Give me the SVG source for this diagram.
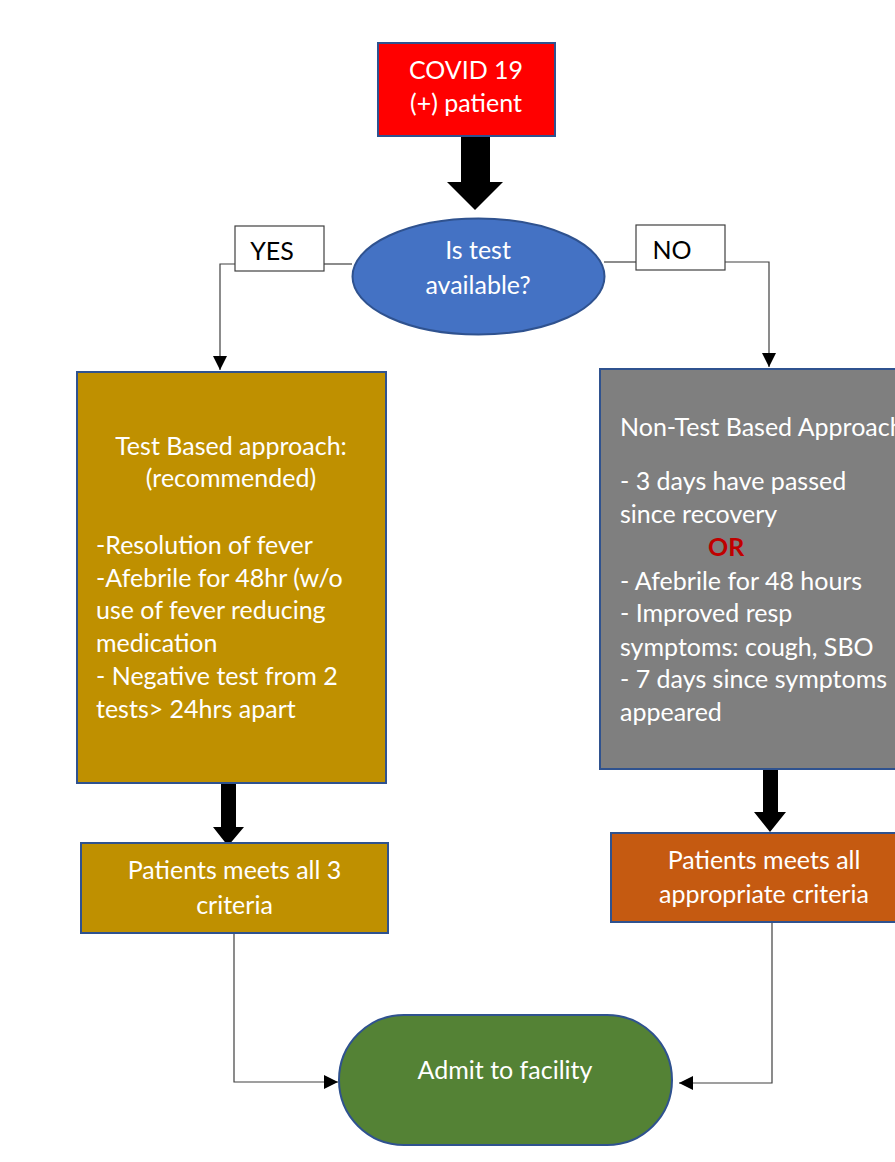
<svg xmlns="http://www.w3.org/2000/svg" width="895" height="1162" viewBox="0 0 895 1162">
<defs>
<style>
.box{stroke:#2F528F;stroke-width:2}
.t{font-family:Lato,"Open Sans","Liberation Sans",sans-serif;font-size:25px;fill:#FFFFFF}
.c{text-anchor:middle}
.lbl{fill:#FFFFFF;stroke:#404040;stroke-width:1.2}
.lt{font-family:Lato,"Open Sans","Liberation Sans",sans-serif;font-size:25px;fill:#000000;text-anchor:middle}
.conn{fill:none;stroke:#404040;stroke-width:1.2}
.big{fill:#000000}
</style>
<marker id="ah" markerWidth="14" markerHeight="14" refX="14" refY="7" orient="auto" markerUnits="userSpaceOnUse">
<path d="M0,0 L14,7 L0,14 Z" fill="#000000"/>
</marker>
</defs>
<rect width="895" height="1162" fill="#FFFFFF"/>

<g id="connectors">
<polygon class="big" points="461,136 490,136 490,182 503,182 475,210 447,182 461,182"/>
<polygon class="big" points="221,783 236,783 236,827 244,827 228,846 213,827 221,827"/>
<polygon class="big" points="763,769 778,769 778,812 786,812 770,832 754,812 763,812"/>
<line class="conn" x1="352" y1="264" x2="324" y2="264"/>
<polyline class="conn" points="235,264 220,264 220,370" marker-end="url(#ah)"/>
<line class="conn" x1="604" y1="262" x2="636" y2="262"/>
<polyline class="conn" points="725,262 769,262 769,367" marker-end="url(#ah)"/>
<polyline class="conn" points="234,934 234,1082 338,1082" marker-end="url(#ah)"/>
<polyline class="conn" points="772,923 772,1083 679,1083" marker-end="url(#ah)"/>
</g>

<g id="covid">
<rect class="box" x="378" y="43" width="177" height="93" fill="#FF0000"/>
<text class="t c" x="466" y="79">COVID 19</text>
<text class="t c" x="466" y="112">(+) patient</text>
</g>

<g id="test-available">
<ellipse class="box" cx="478.5" cy="276.5" rx="126" ry="58" fill="#4472C4"/>
<text class="t c" x="478" y="259">Is test</text>
<text class="t c" x="478" y="294">available?</text>
</g>

<g id="yes">
<rect class="lbl" x="235" y="226" width="89" height="45"/>
<text class="lt" x="272" y="260">YES</text>
</g>

<g id="no">
<rect class="lbl" x="636" y="225" width="89" height="45"/>
<text class="lt" x="672" y="259">NO</text>
</g>

<g id="test-based">
<rect class="box" x="77" y="372" width="309" height="411" fill="#BF9000"/>
<text class="t c" x="231" y="455">Test Based approach:</text>
<text class="t c" x="231" y="487">(recommended)</text>
<text class="t" x="96" y="554">-Resolution of fever</text>
<text class="t" x="96" y="587">-Afebrile for 48hr (w/o</text>
<text class="t" x="96" y="619">use of fever reducing</text>
<text class="t" x="96" y="652">medication</text>
<text class="t" x="96" y="685">- Negative test from 2</text>
<text class="t" x="96" y="718">tests&gt; 24hrs apart</text>
</g>

<g id="non-test-based">
<rect class="box" x="600" y="369" width="310" height="400" fill="#7F7F7F"/>
<text class="t" x="620" y="436">Non-Test Based Approach</text>
<text class="t" x="620" y="490">- 3 days have passed</text>
<text class="t" x="620" y="523">since recovery</text>
<text class="t" x="708" y="556" style="fill:#C00000;font-weight:bold">OR</text>
<text class="t" x="620" y="590">- Afebrile for 48 hours</text>
<text class="t" x="620" y="622">- Improved resp</text>
<text class="t" x="620" y="656">symptoms: cough, SBO</text>
<text class="t" x="620" y="688">- 7 days since symptoms</text>
<text class="t" x="620" y="721">appeared</text>
</g>

<g id="meets-3">
<rect class="box" x="81" y="843" width="307" height="90" fill="#BF9000"/>
<text class="t c" x="234.5" y="879">Patients meets all 3</text>
<text class="t c" x="234.5" y="914">criteria</text>
</g>

<g id="meets-appropriate">
<rect class="box" x="611" y="833" width="300" height="89" fill="#C55A11"/>
<text class="t c" x="764" y="869">Patients meets all</text>
<text class="t c" x="764" y="903">appropriate criteria</text>
</g>

<g id="admit">
<rect class="box" x="339" y="1015" width="333" height="130" rx="65" ry="65" fill="#548235"/>
<text class="t c" x="505" y="1079">Admit to facility</text>
</g>
</svg>
